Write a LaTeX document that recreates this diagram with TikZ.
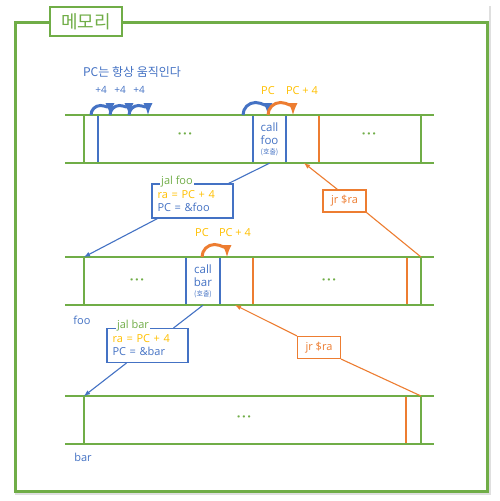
\documentclass[tikz,border=0pt]{standalone}
\usepackage{fontspec}
\setmainfont{Open Sans}
\newfontfamily\kr{Noto Sans CJK KR}
\usetikzlibrary{shadows}
\definecolor{memgreen}{HTML}{70AD47}
\definecolor{pcblue}{HTML}{4472C4}
\definecolor{retorange}{HTML}{ED7D31}
\definecolor{pcyellow}{HTML}{FFC000}
\begin{document}
\begin{tikzpicture}[x=1pt,y=-1pt,
  memline/.style={memgreen,line width=2},
  hop/.style={line width=3,-latex},
  jump/.style={pcblue,line width=1.1},
  ret/.style={retorange,line width=1.1},
  opbox/.style={draw=pcblue,line width=1.1,fill=white,text=pcblue,align=left,text width=70,inner xsep=5.5,minimum height=34,font=\fontsize{11}{13}\selectfont},
  optag/.style={fill=white,text=memgreen,inner sep=1.5,font=\fontsize{11}{13}\selectfont},
  jrbox/.style={draw=retorange,line width=1.1,fill=white,text=retorange,minimum width=43,minimum height=22,inner sep=0,font=\fontsize{11}{13}\selectfont},
  callcell/.style={minimum width=33,minimum height=48,inner sep=0,align=center,text=pcblue,font=\fontsize{11.5}{13}\selectfont},
  dots/.style={text=memgreen,font=\fontsize{13}{13}\selectfont\bfseries},
  pclabel/.style={text=pcyellow,font=\fontsize{11}{13}\selectfont},
  bluelabel/.style={text=pcblue,font=\fontsize{11}{13}\selectfont}]
\useasboundingbox (0,0) rectangle (500,501);
% card and frame
\fill[white,drop shadow={opacity=0.25,shadow xshift=1.5pt,shadow yshift=-2pt}] (13,4) rectangle (489,493);
\draw[memgreen,line width=3] (15,22) rectangle (487,491);
\node (title) [draw=memgreen,line width=1.5,fill=white,text=memgreen,minimum width=72,minimum height=29,inner sep=0,font=\kr\fontsize{18}{18}\selectfont] at (86,21.5) {메모리};
% memory rows
\foreach \x/\y in {84/115,421/115,84/257,421/257,84/396,421/396}
  \draw[memline] (\x,\y) -- (\x,\y+48);
\foreach \x/\y in {98/115,253/115,286/115,186/257,220/257}
  \draw[pcblue,line width=1.6] (\x,\y) -- (\x,\y+48);
\foreach \x/\y in {319/115,253/257,407/257,406/396}
  \draw[retorange,line width=1.6] (\x,\y) -- (\x,\y+48);
\foreach \y in {115,257,396}
  \draw[memline] (65,\y) -- (434,\y) (65,\y+48) -- (434,\y+48);
\node (dotsA) [dots] at (185,136) {·\hspace{1.5pt}·\hspace{1.5pt}·};
\node (dotsB) [dots] at (369,136) {·\hspace{1.5pt}·\hspace{1.5pt}·};
\node (dotsC) [dots] at (137,282) {·\hspace{1.5pt}·\hspace{1.5pt}·};
\node (dotsD) [dots] at (329,282) {·\hspace{1.5pt}·\hspace{1.5pt}·};
\node (dotsE) [dots] at (244,419) {·\hspace{1.5pt}·\hspace{1.5pt}·};
\node (callfoo) [callcell] at (269.5,139) {call\\foo\\[-3pt]{\kr\fontsize{7}{8}\selectfont(호출)}};
\node (callbar) [callcell] at (203,281) {call\\bar\\[-3pt]{\kr\fontsize{7}{8}\selectfont(호출)}};
% PC moves
\node (motto) [text=pcblue,font=\kr\fontsize{12}{14}\selectfont] at (132,72) {PC는 항상 움직인다};
\foreach \x in {101,120,139}
  \node (plus\x) [text=pcblue,font=\fontsize{10}{12}\selectfont] at (\x,90) {+4};
\draw[hop,pcblue] (91,115) arc[start angle=180,end angle=360,radius=9.5];
\draw[hop,pcblue] (110,115) arc[start angle=180,end angle=360,radius=9.5];
\draw[hop,pcblue] (129,115) arc[start angle=180,end angle=360,radius=9.5];
\draw[hop,pcblue] (243,115) arc[start angle=180,end angle=360,radius=12.5];
\draw[hop,retorange] (268,115) arc[start angle=180,end angle=360,radius=12.5];
\draw[hop,retorange] (202,257) arc[start angle=180,end angle=360,radius=12.5];
\node (pcA) [pclabel] at (268,91) {PC};
\node (pcAnext) [pclabel] at (302,91) {PC + 4};
\node (pcB) [pclabel] at (202,233) {PC};
\node (pcBnext) [pclabel] at (235,233) {PC + 4};
\node (foolabel) [bluelabel] at (82,320) {foo};
\node (barlabel) [bluelabel] at (83,457) {bar};
% jal boxes
\node (jalfoo) [opbox] at (192.5,201) {\textcolor{pcyellow}{ra = PC + 4}\\PC = \&foo};
\node (jalfootag) [optag] at (177,182) {jal foo};
\node (jalbar) [opbox] at (147.5,345.5) {\textcolor{pcyellow}{ra = PC + 4}\\PC = \&bar};
\node (jalbartag) [optag] at (133,326) {jal bar};
\coordinate (fooentry) at (84,257);
\coordinate (barentry) at (84,396);
\draw[jump] (callfoo.south) -- ([xshift=-5]jalfoo.north east);
\draw[jump,-latex] ([xshift=6]jalfoo.south west) -- (fooentry);
\draw[jump] (callbar.south) -- ([xshift=-15]jalbar.north east);
\draw[jump,-latex] ([xshift=20]jalbar.south west) -- (barentry);
% jr boxes
\node (jrfoo) [jrbox] at (344.5,201) {jr \$ra};
\node (jrbar) [jrbox] at (319,347.5) {jr \$ra};
\coordinate (retfoo) at (304,163);
\coordinate (retbar) at (235,305);
\coordinate (fooend) at (421,257);
\coordinate (barend) at (421,396);
\draw[ret,-latex] ([xshift=-7]jrfoo.north) -- (retfoo);
\draw[ret] (jrfoo.south east) -- (fooend);
\draw[ret,-latex] (jrbar.north west) -- (retbar);
\draw[ret] (jrbar.south east) -- (barend);
\end{tikzpicture}
\end{document}
